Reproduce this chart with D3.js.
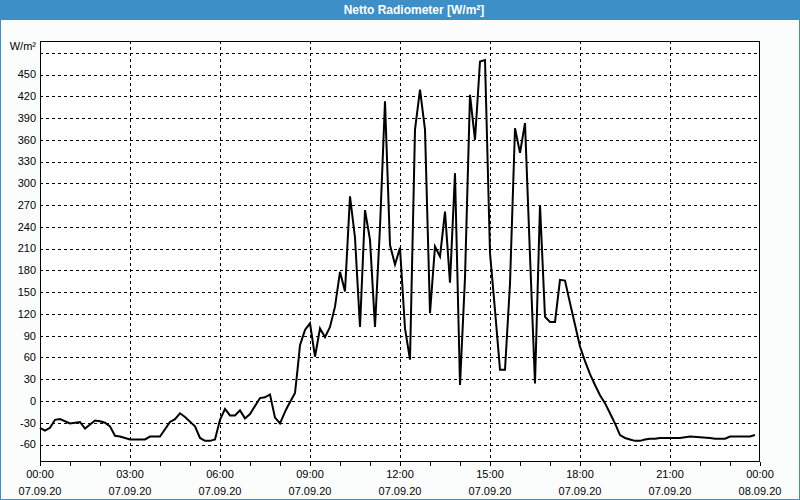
<!DOCTYPE html>
<html>
<head>
<meta charset="utf-8">
<script src="https://cdn.jsdelivr.net/npm/d3@7"></script>
<style>
  html, body { margin: 0; padding: 0; background: #fbfdfc; }
  svg { display: block; }
</style>
</head>
<body>
<svg id="chart" width="800" height="500"></svg>
<script>
const titleText = "Netto Radiometer [W/m²]";
const unitLabel = "W/m²";
const day = "2020-09-07";
const times = ["00:00","00:10","00:20","00:30","00:40","01:00","01:20","01:30","01:50","02:00","02:10","02:20","02:30","02:40","03:00","03:30","03:40","04:00","04:20","04:30","04:40","04:50","05:10","05:20","05:30","05:40","05:50","06:00","06:10","06:20","06:30","06:40","06:50","07:00","07:20","07:30","07:40","07:50","08:00","08:10","08:15","08:30","08:35","08:40","08:50","09:00","09:10","09:20","09:30","09:40","09:50","10:00","10:10","10:20","10:30","10:40","10:50","11:00","11:10","11:20","11:30","11:40","11:50","12:00","12:10","12:20","12:30","12:40","12:50","13:00","13:10","13:20","13:30","13:40","13:50","14:00","14:10","14:20","14:30","14:40","14:50","15:00","15:10","15:20","15:30","15:40","15:50","16:00","16:10","16:20","16:30","16:40","16:50","17:00","17:10","17:20","17:30","17:40","17:50","18:00","18:10","18:20","18:30","18:40","18:50","19:00","19:10","19:20","19:30","19:40","19:50","20:00","20:10","20:20","20:30","20:40","21:00","21:20","21:40","22:00","22:20","22:30","22:50","23:00","23:20","23:40","23:50"];
const values = [-37,-41,-37,-26,-25,-31,-29,-38,-27,-28,-30,-35,-48,-49,-53,-53,-49,-49,-29,-25,-17,-22,-35,-51,-55,-55,-53,-26,-11,-20,-20,-13,-24,-18,4,5,9,-23,-31,-15,-8,11,43,77,98,107,61,100,88,102,130,178,151,282,225,102,263,222,102,240,413,215,188,211,100,57,374,429,374,121,213,199,261,163,314,22,170,422,360,468,470,204,125,43,43,162,376,342,383,200,24,270,116,109,109,167,166,135,105,75,55,37,22,8,-3,-17,-31,-47,-51,-53,-55,-55,-53,-52,-52,-51,-51,-51,-49,-50,-51,-52,-52,-49,-49,-49,-47];
const yTicks = [-60,-30,0,30,60,90,120,150,180,210,240,270,300,330,360,390,420,450,480];
const yLabelTicks = [-60,-30,0,30,60,90,120,150,180,210,240,270,300,330,360,390,420,450];
const xTickHours = [0,3,6,9,12,15,18,21,24];

const parse = d3.timeParse("%Y-%m-%d %H:%M");
const t0 = parse(day + " 00:00");
const t1 = d3.timeDay.offset(t0, 1);
const data = times.map((t, i) => ({ t: parse(day + " " + t), v: values[i] }));

const svg = d3.select("#chart");
const W = 800, H = 500;
const blue = "#3c8fc7";
const font = "'Liberation Sans', Arial, sans-serif";

const frame = { left: 40, right: 760, top: 41, bottom: 462 };
const x = d3.scaleTime().domain([t0, t1]).range([frame.left, frame.right]);
const y = d3.scaleLinear().domain([-60, 450]).range([444.5, 74.5]);
const px = v => Math.round(v) + 0.5;

// background + border
svg.append("rect").attr("x", 0.5).attr("y", 0.5).attr("width", W - 1).attr("height", H - 1)
  .attr("fill", "#fbfdfc").attr("stroke", blue);
svg.append("rect").attr("x", 0).attr("y", 0).attr("width", W).attr("height", 20).attr("fill", blue);
svg.append("text").attr("x", 414).attr("y", 10).attr("dy", "0.36em")
  .attr("text-anchor", "middle").attr("fill", "#ffffff")
  .attr("font-family", font).attr("font-weight", "bold").attr("font-size", 12)
  .text(titleText);

// plot area
svg.append("rect").attr("x", frame.left).attr("y", frame.top)
  .attr("width", frame.right - frame.left).attr("height", frame.bottom - frame.top)
  .attr("fill", "#ffffff");

// horizontal grid
svg.append("g").selectAll("line").data(yTicks).join("line")
  .attr("x1", frame.left).attr("x2", frame.right)
  .attr("y1", d => px(y(d))).attr("y2", d => px(y(d)))
  .attr("stroke", "#000").attr("stroke-width", 1).attr("stroke-dasharray", "3,3");

// vertical grid
const hourTicks = d3.range(0, 25).map(h => d3.timeHour.offset(t0, h));
const majorTicks = xTickHours.map(h => d3.timeHour.offset(t0, h));
svg.append("g").selectAll("line").data(majorTicks.slice(1, -1)).join("line")
  .attr("x1", d => px(x(d))).attr("x2", d => px(x(d)))
  .attr("y1", frame.top).attr("y2", frame.bottom)
  .attr("stroke", "#000").attr("stroke-width", 1).attr("stroke-dasharray", "3,3");

// ticks below
svg.append("g").selectAll("line").data(hourTicks).join("line")
  .attr("x1", d => px(x(d))).attr("x2", d => px(x(d)))
  .attr("y1", frame.bottom).attr("y2", frame.bottom + 4)
  .attr("stroke", "#000").attr("stroke-width", 1);

// frame
svg.append("rect").attr("x", frame.left + 0.5).attr("y", frame.top + 0.5)
  .attr("width", frame.right - frame.left - 1).attr("height", frame.bottom - frame.top - 1)
  .attr("fill", "none").attr("stroke", "#000").attr("stroke-width", 1);

// y labels
svg.append("g").selectAll("text").data(yLabelTicks).join("text")
  .attr("x", 36).attr("y", d => y(d)).attr("dy", "0.35em")
  .attr("text-anchor", "end").attr("font-family", font).attr("font-size", 11).attr("fill", "#000")
  .text(d => d);
svg.append("text").attr("x", 36).attr("y", 46).attr("dy", "0.35em")
  .attr("text-anchor", "end").attr("font-family", font).attr("font-size", 11).attr("fill", "#000")
  .text(unitLabel);

// x labels
const fTime = d3.timeFormat("%H:%M"), fDate = d3.timeFormat("%d.%m.%y");
const xl = svg.append("g").selectAll("g").data(majorTicks).join("g");
xl.append("text").attr("x", d => x(d)).attr("y", 474.5).attr("dy", "0.35em")
  .attr("text-anchor", "middle").attr("font-family", font).attr("font-size", 11).text(d => fTime(d));
xl.append("text").attr("x", d => x(d)).attr("y", 491).attr("dy", "0.35em")
  .attr("text-anchor", "middle").attr("font-family", font).attr("font-size", 11).text(d => fDate(d));

// line
const line = d3.line().x(d => x(d.t)).y(d => y(d.v));
svg.append("path").datum(data).attr("d", line)
  .attr("fill", "none").attr("stroke", "#000").attr("stroke-width", 2)
  .attr("stroke-linejoin", "miter").attr("stroke-linecap", "butt");
</script>
</body>
</html>
